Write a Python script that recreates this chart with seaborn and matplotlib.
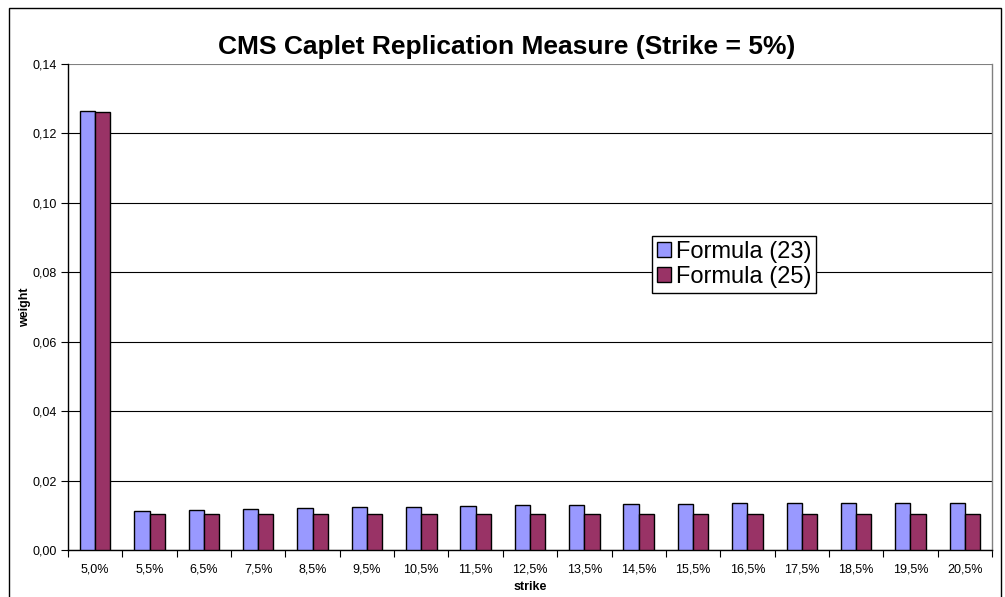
import pandas as pd
import seaborn as sns
import matplotlib.pyplot as plt
from matplotlib.ticker import FuncFormatter, FixedLocator
from matplotlib.patches import Rectangle

# Data
strikes = ['5,0%', '5,5%', '6,5%', '7,5%', '8,5%', '9,5%', '10,5%', '11,5%', '12,5%',
           '13,5%', '14,5%', '15,5%', '16,5%', '17,5%', '18,5%', '19,5%', '20,5%']
formula_23 = [0.1266, 0.01125, 0.01155, 0.01183, 0.0120, 0.0123, 0.0125, 0.0126, 0.0129,
              0.0130, 0.0132, 0.0132, 0.0134, 0.0134, 0.0135, 0.0135, 0.0136]
formula_25 = [0.1262, 0.0105, 0.0105, 0.0105, 0.0105, 0.0105, 0.0105, 0.0105, 0.0105,
              0.0105, 0.0105, 0.0105, 0.0105, 0.0105, 0.0105, 0.0105, 0.0105]
series_names = ['Formula (23)', 'Formula (25)']
colors = ['#9999FF', '#993366']

df = pd.DataFrame({
    'strike': strikes * 2,
    'weight': formula_23 + formula_25,
    'series': [series_names[0]] * len(strikes) + [series_names[1]] * len(strikes),
})

sns.set_theme(style='white')
plt.rcParams['font.family'] = ['Liberation Sans', 'DejaVu Sans']
plt.rcParams.update({'text.color': 'black', 'axes.labelcolor': 'black',
                     'xtick.color': 'black', 'ytick.color': 'black'})

fig = plt.figure(figsize=(10.05, 5.97), dpi=100)
ax = fig.add_axes([68 / 1005, 47 / 597, (992 - 68) / 1005, (550 - 64) / 597])

sns.barplot(data=df, x='strike', y='weight', hue='series', palette=colors,
            saturation=1, edgecolor='black', linewidth=1, width=0.56, ax=ax, zorder=3)

# Formatting
ax.set_ylim(0, 0.14)
ax.set_xlim(-0.5, len(strikes) - 0.5)
ax.set_yticks([0, 0.02, 0.04, 0.06, 0.08, 0.10, 0.12, 0.14])
ax.yaxis.set_major_formatter(FuncFormatter(lambda v, p: f'{v:.2f}'.replace('.', ',')))
ax.yaxis.grid(True, color='black', linewidth=0.8, zorder=0)
ax.yaxis.get_gridlines()[-1].set_color('#808080')
ax.tick_params(axis='y', length=5, width=0.8, direction='out', left=True, labelsize=9, pad=3)
ax.tick_params(axis='x', length=0, labelsize=9, pad=10)
ax.xaxis.set_minor_locator(FixedLocator([i - 0.5 for i in range(len(strikes) + 1)]))
ax.tick_params(axis='x', which='minor', length=5, width=0.8, direction='out', bottom=True)

for side in ['left', 'bottom']:
    ax.spines[side].set_color('black')
    ax.spines[side].set_linewidth(1)
ax.spines['top'].set_visible(False)
ax.spines['right'].set_color('#808080')
ax.spines['right'].set_linewidth(1)

fig.text(507 / 1005, 1 - 47 / 597, 'CMS Caplet Replication Measure (Strike = 5%)',
         fontsize=19, fontweight='bold', ha='center', va='center')
ax.set_xlabel('strike', fontsize=9, fontweight='bold', labelpad=4)
ax.set_ylabel('weight', fontsize=9, fontweight='bold', labelpad=1)

leg = ax.legend(loc='upper left', bbox_to_anchor=(0.632, 0.646), fontsize=17,
                frameon=True, fancybox=False, edgecolor='black', framealpha=1,
                handlelength=0.6, handleheight=0.6, handletextpad=0.2,
                borderpad=0.2, labelspacing=0.15, borderaxespad=0)
leg.get_frame().set_linewidth(1)
for h in leg.legend_handles:
    h.set_edgecolor('black')
    h.set_linewidth(1)

# Outer chart border
fig.patches.append(Rectangle((9 / 1005, -0.01), (1001 - 9) / 1005, (597 - 8) / 597 + 0.01,
                             transform=fig.transFigure, fill=False,
                             edgecolor='black', linewidth=1))

fig.savefig('out.png', dpi=100)
